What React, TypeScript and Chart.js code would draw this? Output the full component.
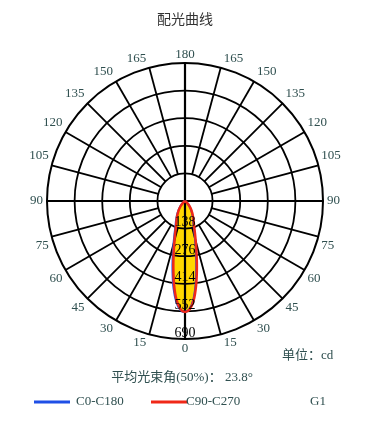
import React, { useEffect, useRef } from 'react';
import { Chart, registerables } from 'chart.js';

Chart.register(...registerables);

// ---- data ----
const titleText = '配光曲线';
const unitText = '单位：cd';
const beamText = '平均光束角(50%)： 23.8°';
const seriesNames = ['C0-C180', 'C90-C270'];
const extraLegend = 'G1';
const angleTicks = [0, 15, 30, 45, 60, 75, 90, 105, 120, 135, 150, 165, 180];
const intensityTicks = [138, 276, 414, 552, 690];
const maxIntensity = 690;
// gamma angles (deg, 0 = straight down)
const gammaDeg = [0, 2.5, 5, 7.5, 10, 12.5, 15, 17.5, 20, 25, 30, 35, 40, 45, 50, 60, 70, 80, 90];
// C0-C180 plane (blue)
const c0 = [555, 538, 490, 412, 325, 250, 192, 152, 124, 94, 70, 50, 34, 20, 9, 2, 0, 0, 0];
const c180 = [555, 545, 505, 440, 360, 285, 222, 176, 142, 106, 80, 58, 40, 24, 11, 3, 0, 0, 0];
// C90-C270 plane (red)
const c90 = [555, 542, 498, 425, 342, 266, 206, 164, 133, 100, 75, 55, 38, 22, 10, 3, 0, 0, 0];
const c270 = [555, 540, 494, 420, 336, 261, 202, 161, 130, 98, 73, 53, 36, 21, 10, 3, 0, 0, 0];

const BLUE = '#1f4fe6';
const RED = '#f02818';
const FILL = '#ffd700';
const TEXT = '#2f4f4f';

function toPoints(left: number[], right: number[]) {
  const pts: { x: number; y: number }[] = [];
  for (let i = gammaDeg.length - 1; i >= 0; i--) {
    const g = (gammaDeg[i] * Math.PI) / 180;
    pts.push({ x: -left[i] * Math.sin(g), y: -left[i] * Math.cos(g) });
  }
  for (let i = 1; i < gammaDeg.length; i++) {
    const g = (gammaDeg[i] * Math.PI) / 180;
    pts.push({ x: right[i] * Math.sin(g), y: -right[i] * Math.cos(g) });
  }
  return pts;
}

const polarPlugin = {
  id: 'polarGrid',
  afterDatasetDraw(chart: any, args: any) {
    if (args.index !== 0) return;
    const ctx = chart.ctx;
    const xs = chart.scales.x;
    const ys = chart.scales.y;
    const cx = xs.getPixelForValue(0);
    const cy = ys.getPixelForValue(0);
    const k = xs.getPixelForValue(1) - cx;
    const R = maxIntensity * k;
    const r0 = intensityTicks[0] * k;
    ctx.save();
    ctx.strokeStyle = '#000';
    // circles
    intensityTicks.forEach((v, i) => {
      ctx.lineWidth = i === intensityTicks.length - 1 ? 2 : 1.8;
      ctx.beginPath();
      ctx.arc(cx, cy, v * k, 0, Math.PI * 2);
      ctx.stroke();
    });
    // radial lines
    ctx.lineWidth = 1.8;
    angleTicks.forEach((a) => {
      if (a === 0 || a === 90 || a === 180) return;
      const t = (a * Math.PI) / 180;
      [1, -1].forEach((s) => {
        const dx = s * Math.sin(t);
        const dy = Math.cos(t);
        ctx.beginPath();
        ctx.moveTo(cx + dx * r0, cy + dy * r0);
        ctx.lineTo(cx + dx * R, cy + dy * R);
        ctx.stroke();
      });
    });
    // axes
    ctx.lineWidth = 2.2;
    ctx.beginPath();
    ctx.moveTo(cx - R, cy);
    ctx.lineTo(cx + R, cy);
    ctx.moveTo(cx, cy - R);
    ctx.lineTo(cx, cy + R);
    ctx.stroke();
    ctx.restore();
  },
  afterDatasetsDraw(chart: any) {
    const ctx = chart.ctx;
    const xs = chart.scales.x;
    const ys = chart.scales.y;
    const cx = xs.getPixelForValue(0);
    const cy = ys.getPixelForValue(0);
    const k = xs.getPixelForValue(1) - cx;
    const R = maxIntensity * k;
    ctx.save();
    // intensity labels
    ctx.fillStyle = '#000';
    ctx.font = '14px "Liberation Serif", serif';
    ctx.textAlign = 'center';
    ctx.textBaseline = 'bottom';
    intensityTicks.forEach((v) => {
      ctx.fillText(String(v), cx, cy + v * k + 1);
    });
    // angle labels
    ctx.fillStyle = TEXT;
    ctx.font = '13px "Liberation Serif", serif';
    angleTicks.forEach((a) => {
      const t = (a * Math.PI) / 180;
      if (a === 0) {
        ctx.textAlign = 'center';
        ctx.textBaseline = 'top';
        ctx.fillText('0', cx, cy + R + 3);
        return;
      }
      if (a === 180) {
        ctx.textAlign = 'center';
        ctx.textBaseline = 'bottom';
        ctx.fillText('180', cx, cy - R - 2);
        return;
      }
      [1, -1].forEach((s) => {
        const ex = cx + s * Math.sin(t) * R;
        const ey = cy + Math.cos(t) * R;
        ctx.textAlign = s > 0 ? 'left' : 'right';
        if (a === 90) {
          ctx.textBaseline = 'middle';
          ctx.fillText(String(a), ex + s * 4, ey);
        } else if (a < 90) {
          ctx.textBaseline = 'top';
          ctx.fillText(String(a), ex + s * 3, ey + 2);
        } else {
          ctx.textBaseline = 'bottom';
          ctx.fillText(String(a), ex + s * 3, ey - 3);
        }
      });
    });
    // title
    ctx.fillStyle = '#333';
    ctx.textAlign = 'center';
    ctx.textBaseline = 'middle';
    ctx.font = '14px "Noto Sans CJK SC", sans-serif';
    ctx.fillText(titleText, 185, 19);
    // unit
    ctx.fillStyle = TEXT;
    ctx.font = '13px "Liberation Serif", "Noto Sans CJK SC", serif';
    ctx.textAlign = 'left';
    ctx.fillText(unitText, 282, 356);
    ctx.textAlign = 'center';
    ctx.fillText(beamText, 182, 378);
    // legend
    const ly = 402;
    ctx.lineWidth = 3;
    ctx.strokeStyle = BLUE;
    ctx.beginPath();
    ctx.moveTo(34, ly);
    ctx.lineTo(70, ly);
    ctx.stroke();
    ctx.strokeStyle = RED;
    ctx.beginPath();
    ctx.moveTo(151, ly);
    ctx.lineTo(187, ly);
    ctx.stroke();
    ctx.textAlign = 'left';
    ctx.fillText(seriesNames[0], 76, ly);
    ctx.fillText(seriesNames[1], 186, ly);
    ctx.fillText(extraLegend, 310, ly);
    ctx.restore();
  },
};

export default function App() {
  const ref = useRef<HTMLCanvasElement | null>(null);
  useEffect(() => {
    if (!ref.current) return;
    const bluePts = toPoints(c180, c0);
    const redPts = toPoints(c270, c90);
    const chart = new Chart(ref.current, {
      type: 'scatter',
      data: {
        datasets: [
          {
            label: 'fill',
            data: redPts,
            showLine: true,
            borderWidth: 0,
            borderColor: 'rgba(0,0,0,0)',
            backgroundColor: FILL,
            fill: 'shape',
            pointRadius: 0,
            tension: 0.3,
            order: 3,
          } as any,
          {
            label: seriesNames[0],
            data: bluePts,
            showLine: true,
            borderWidth: 2,
            borderColor: BLUE,
            fill: false,
            pointRadius: 0,
            tension: 0.3,
            order: 2,
          },
          {
            label: seriesNames[1],
            data: redPts,
            showLine: true,
            borderWidth: 2.5,
            borderColor: RED,
            fill: false,
            pointRadius: 0,
            tension: 0.3,
            order: 1,
          },
        ],
      },
      options: {
        responsive: false,
        maintainAspectRatio: false,
        devicePixelRatio: 1,
        animation: false,
        layout: { padding: { left: 47, right: 57, top: 63, bottom: 108 } },
        scales: {
          x: { type: 'linear', min: -maxIntensity, max: maxIntensity, display: false },
          y: { type: 'linear', min: -maxIntensity, max: maxIntensity, display: false },
        },
        plugins: {
          legend: { display: false },
          tooltip: { enabled: false },
          title: { display: false },
        },
      },
      plugins: [polarPlugin],
    });
    return () => chart.destroy();
  }, []);
  return (
    <div style={{ position: 'absolute', left: 0, top: 0, width: 380, height: 447, background: '#fff' }}>
      <canvas ref={ref} width={380} height={447} style={{ display: 'block', width: 380, height: 447 }} />
    </div>
  );
}
